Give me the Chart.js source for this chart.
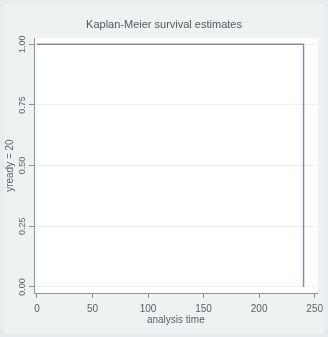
<!DOCTYPE html>
<html>
<head>
<meta charset="utf-8">
<script src="https://cdn.jsdelivr.net/npm/chart.js@4"></script>
<style>
  html, body { margin: 0; padding: 0; background: #e7ecee; }
  #wrap { width: 328px; height: 337px; }
</style>
</head>
<body>
<div id="wrap"><canvas id="km" width="328" height="337"></canvas></div>
<script>
// Kaplan-Meier survival curve: step points (time, survival)
const analysisTime = [0, 240];
const survival = [1, 0];

// Axis ticks
const xTicks = [0, 50, 100, 150, 200, 250];
const yTicks = [0, 0.25, 0.5, 0.75, 1];
const yTickLabels = ['0.00', '0.25', '0.50', '0.75', '1.00'];

// Texts
const titleText = 'Kaplan-Meier survival estimates';
const xTitleText = 'analysis time';
const yTitleText = 'yready = 20';

const FONT = '"Liberation Sans", Arial, sans-serif';
const AXIS_GREY = '#8d9499';
const TEXT_GREY = '#5a6065';

const points = analysisTime.map((t, i) => ({ x: t, y: survival[i] }));

// Graph region background and white plot region
const backgroundPlugin = {
  id: 'regions',
  beforeDraw(chart) {
    const { ctx, chartArea: a, width, height } = chart;
    ctx.save();
    ctx.fillStyle = '#e7ecee';
    ctx.fillRect(0, 0, width, height);
    ctx.fillStyle = '#eef2f3';
    ctx.fillRect(4, 4, width - 8, height - 8);
    ctx.fillStyle = '#ffffff';
    ctx.fillRect(a.left, a.top, a.right - a.left, a.bottom - a.top);
    ctx.restore();
  }
};

// Vertical y tick labels, placed on the y scale's own tick positions
const yLabelPlugin = {
  id: 'yLabels',
  afterDraw(chart) {
    const { ctx } = chart;
    const ys = chart.scales.y;
    ctx.save();
    ctx.fillStyle = TEXT_GREY;
    ctx.font = '9px ' + FONT;
    ctx.textAlign = 'center';
    ctx.textBaseline = 'middle';
    yTicks.forEach((v, i) => {
      const py = ys.getPixelForValue(v);
      ctx.save();
      ctx.translate(23, py);
      ctx.rotate(-Math.PI / 2);
      ctx.fillText(yTickLabels[i], 0, 0);
      ctx.restore();
    });
    ctx.restore();
  }
};

new Chart(document.getElementById('km'), {
  type: 'line',
  data: {
    datasets: [{
      data: points,
      stepped: true,
      borderColor: '#858e97',
      borderWidth: 1.5,
      pointRadius: 0,
      fill: false
    }]
  },
  options: {
    responsive: false,
    animation: false,
    layout: { padding: 0 },
    plugins: {
      legend: { display: false },
      tooltip: { enabled: false },
      title: {
        display: true,
        text: titleText,
        color: '#52585d',
        font: { family: FONT, size: 11, weight: 'normal' },
        padding: { top: 18, bottom: 7 }
      }
    },
    scales: {
      x: {
        type: 'linear',
        min: -2.7,
        max: 252.7,
        afterBuildTicks(scale) { scale.ticks = xTicks.map(v => ({ value: v })); },
        afterFit(scale) { scale.height = 44; },
        border: { display: true, color: AXIS_GREY, width: 1 },
        grid: { display: true, drawOnChartArea: false, drawTicks: true, tickLength: 5, tickColor: AXIS_GREY },
        ticks: {
          padding: 5,
          color: TEXT_GREY,
          font: { family: FONT, size: 10 },
          maxRotation: 0,
          minRotation: 0,
          callback: v => String(v)
        },
        title: {
          display: true,
          text: xTitleText,
          color: TEXT_GREY,
          font: { family: FONT, size: 10, lineHeight: 1.2 },
          padding: { top: 0, bottom: 11 }
        }
      },
      y: {
        type: 'linear',
        min: -0.025,
        max: 1.025,
        afterBuildTicks(scale) { scale.ticks = yTicks.map(v => ({ value: v })); },
        afterFit(scale) { scale.width = 34; },
        border: { display: true, color: AXIS_GREY, width: 1 },
        grid: { display: true, drawOnChartArea: true, color: '#edf1f3', drawTicks: true, tickLength: 5, tickColor: AXIS_GREY },
        ticks: { display: false },
        title: {
          display: true,
          text: yTitleText,
          color: TEXT_GREY,
          font: { family: FONT, size: 10, lineHeight: 1.2 },
          padding: { top: 4, bottom: 0 }
        }
      }
    }
  },
  plugins: [backgroundPlugin, yLabelPlugin]
});
</script>
</body>
</html>
